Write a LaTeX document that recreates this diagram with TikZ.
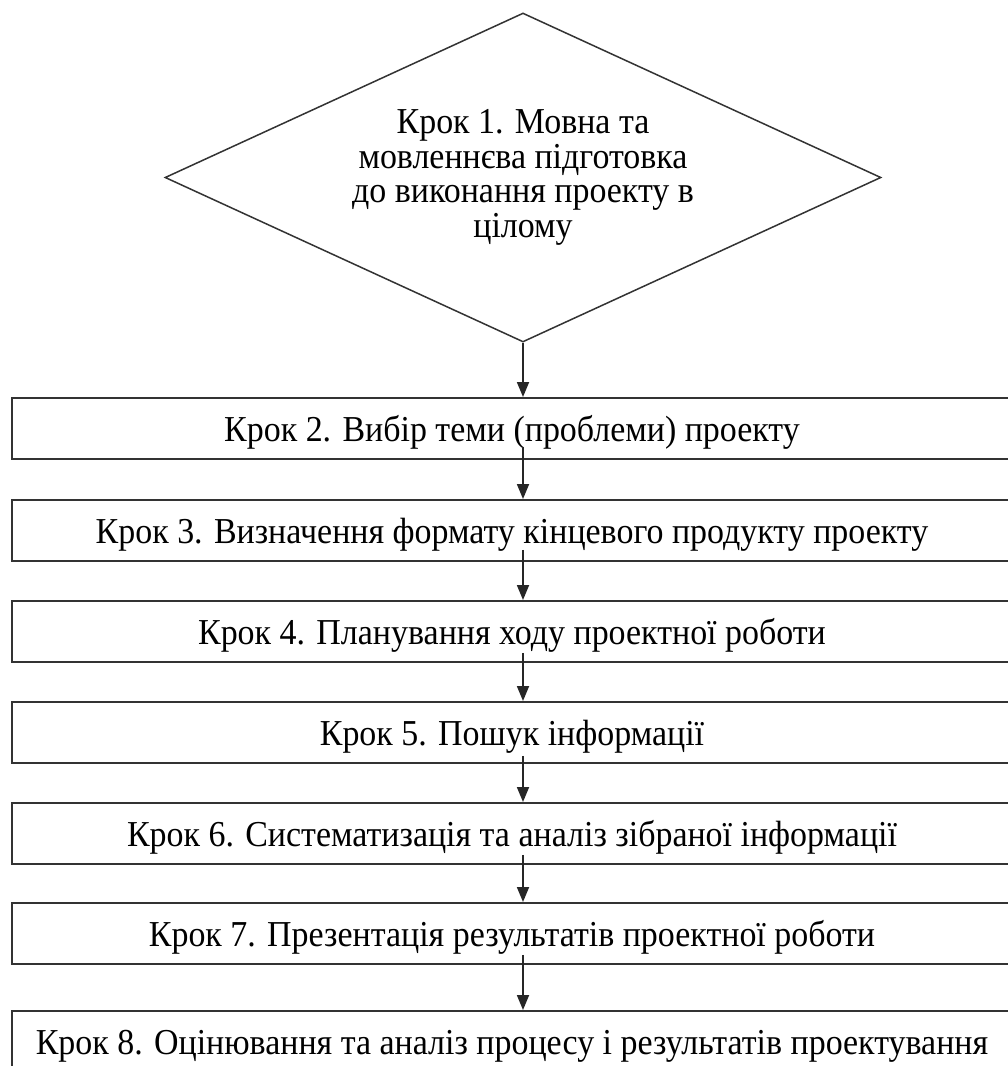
\documentclass[tikz,border=0pt]{standalone}
\usepackage{fontspec}
\setmainfont{Liberation Serif}[FakeStretch=0.93]
\usetikzlibrary{shapes.geometric,arrows.meta}
\begin{document}
\begin{tikzpicture}[x=1pt,y=-1pt,
  txt/.style={font=\fontsize{36.5}{34.5}\selectfont, text=black},
  stepbox/.style={txt, draw=black!80, line width=1.8pt, minimum width=1000pt, minimum height=61pt, inner sep=0pt, text height=28pt, text depth=2pt, anchor=north},
  decision/.style={txt, diamond, draw=black!80, line width=1.5pt, aspect=2.18, minimum width=716pt, minimum height=329pt, inner sep=0pt, align=center},
  arr/.style={draw=black!85, line width=1.8pt, -{Triangle[length=15pt,width=12pt]}}]
\useasboundingbox (0,0) rectangle (1008,1066);
\clip (0,0) rectangle (1008,1066);
\fill[white] (0,0) rectangle (1008,1066);
\node[decision] (s1) at (523,177.5) {Крок 1. Мовна та\\мовленнєва підготовка\\до виконання проекту в\\цілому};
\node[stepbox] (s2) at (512,397) {Крок 2. Вибір теми (проблеми) проекту};
\node[stepbox] (s3) at (512,499) {Крок 3. Визначення формату кінцевого продукту проекту};
\node[stepbox] (s4) at (512,600) {Крок 4. Планування ходу проектної роботи};
\node[stepbox] (s5) at (512,701) {Крок 5. Пошук інформації};
\node[stepbox] (s6) at (512,802) {Крок 6. Систематизація та аналіз зібраної інформації};
\node[stepbox] (s7) at (512,902) {Крок 7. Презентація результатів проектної роботи};
\node[stepbox] (s8) at (512,1010) {Крок 8. Оцінювання та аналіз процесу і результатів проектування};
\draw[arr] (s1.south) -- (s1.south |- s2.north);
\draw[arr] ([xshift=11pt,yshift=13pt]s2.south) -- ([xshift=11pt]s3.north);
\draw[arr] ([xshift=11pt,yshift=12pt]s3.south) -- ([xshift=11pt]s4.north);
\draw[arr] ([xshift=11pt,yshift=10pt]s4.south) -- ([xshift=11pt]s5.north);
\draw[arr] ([xshift=11pt,yshift=8pt]s5.south) -- ([xshift=11pt]s6.north);
\draw[arr] ([xshift=11pt,yshift=10pt]s6.south) -- ([xshift=11pt]s7.north);
\draw[arr] ([xshift=11pt,yshift=10pt]s7.south) -- ([xshift=11pt]s8.north);
\end{tikzpicture}
\end{document}
